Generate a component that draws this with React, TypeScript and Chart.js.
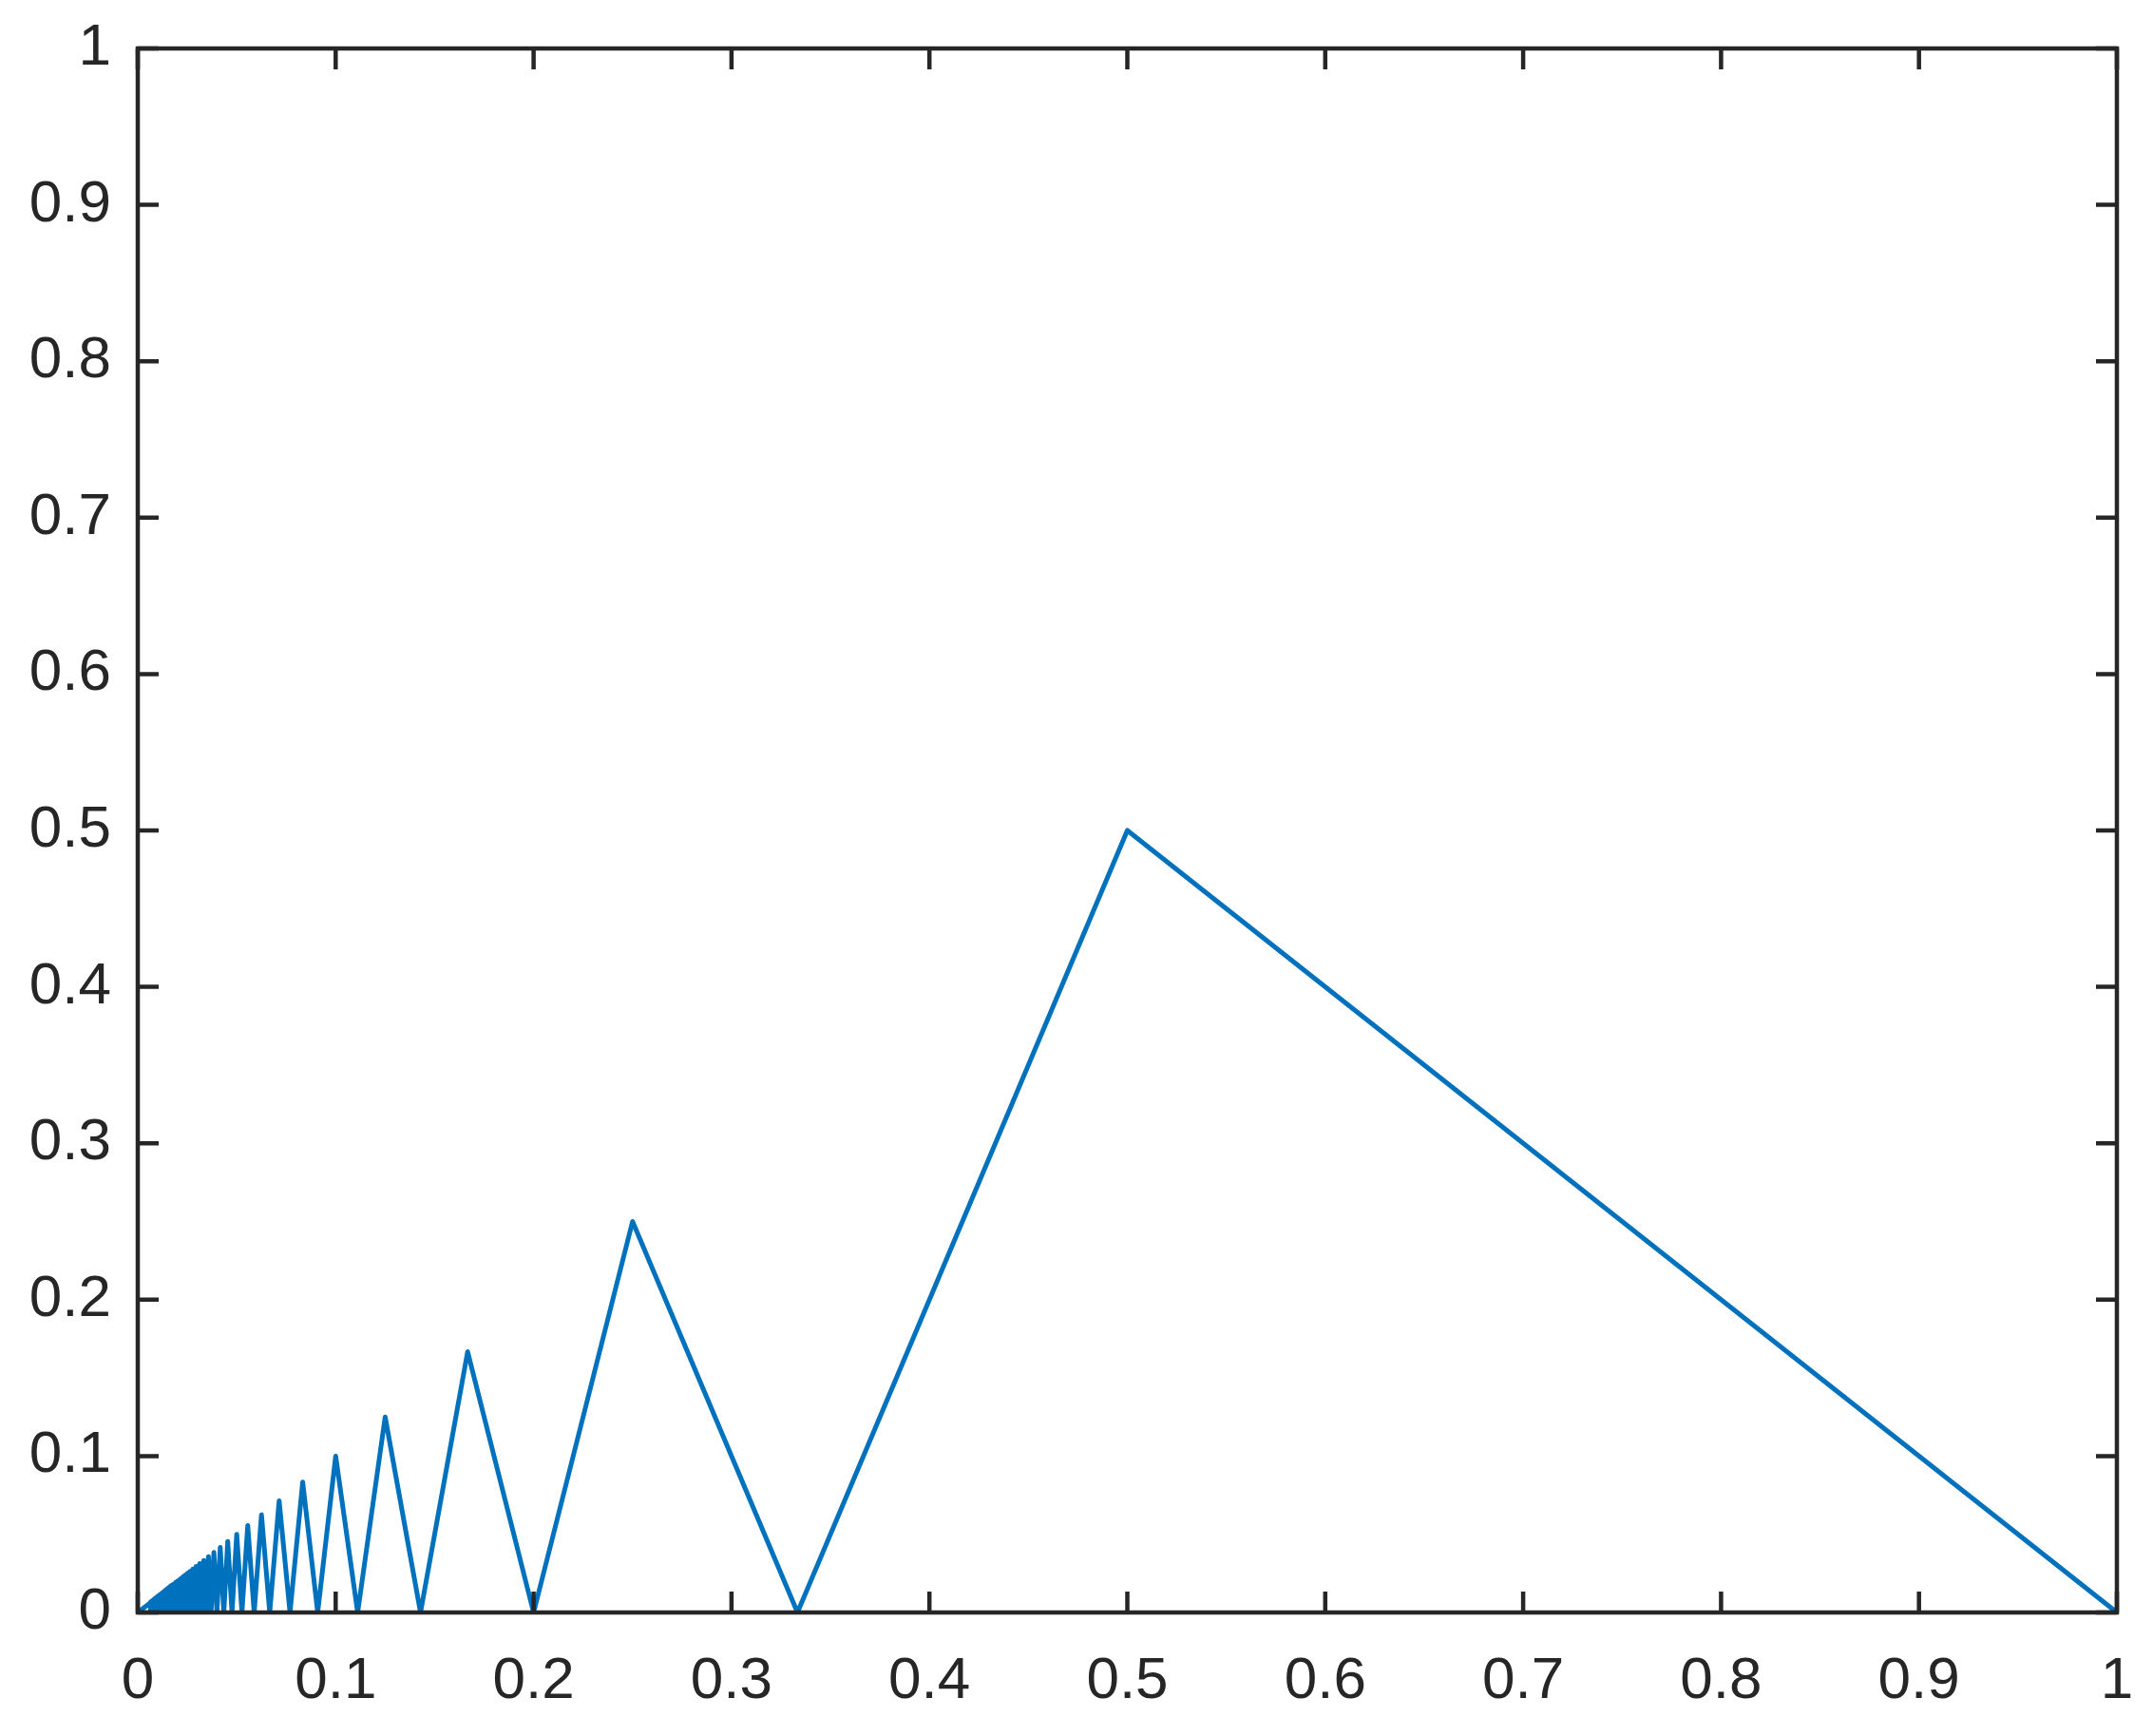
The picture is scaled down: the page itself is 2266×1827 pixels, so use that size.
import React, { useEffect, useRef } from "react";
import { Chart, registerables } from "chart.js";

Chart.register(...registerables);

// x = positions of the zigzag vertices, last point at origin
const xValues: number[] = [
  1, 0.5, 0.33333, 0.25, 0.2, 0.16667, 0.14286, 0.125, 0.11111, 0.1,
  0.09091, 0.08333, 0.07692, 0.07143, 0.06667, 0.0625, 0.05882, 0.05556, 0.05263, 0.05,
  0.04762, 0.04545, 0.04348, 0.04167, 0.04, 0.03846, 0.03704, 0.03571, 0.03448, 0.03333,
  0.03226, 0.03125, 0.0303, 0.02941, 0.02857, 0.02778, 0.02703, 0.02632, 0.02564, 0.025,
  0.02439, 0.02381, 0.02326, 0.02273, 0.02222, 0.02174, 0.02128, 0.02083, 0.02041, 0.02,
  0.01961, 0.01923, 0.01887, 0.01852, 0.01818, 0.01786, 0.01754, 0.01724, 0.01695, 0.01667,
  0.01639, 0.01613, 0.01587, 0.01563, 0.01538, 0.01515, 0.01493, 0.01471, 0.01449, 0.01429,
  0.01408, 0.01389, 0.0137, 0.01351, 0.01333, 0.01316, 0.01299, 0.01282, 0.01266, 0.0125,
  0.01235, 0.0122, 0.01205, 0.0119, 0.01176, 0.01163, 0.01149, 0.01136, 0.01124, 0.01111,
  0.01099, 0.01087, 0.01075, 0.01064, 0.01053, 0.01042, 0.01031, 0.0102, 0.0101, 0.01,
  0.0099, 0.0098, 0.00971, 0.00962, 0.00952, 0.00943, 0.00935, 0.00926, 0.00917, 0.00909,
  0.00901, 0.00893, 0.00885, 0.00877, 0.0087, 0.00862, 0.00855, 0.00847, 0.0084, 0.00833,
  0.00826, 0.0082, 0.00813, 0.00806, 0.008, 0.00794, 0.00787, 0.00781, 0.00775, 0.00769,
  0.00763, 0.00758, 0.00752, 0.00746, 0.00741, 0.00735, 0.0073, 0.00725, 0.00719, 0.00714,
  0.00709, 0.00704, 0.00699, 0.00694, 0.0069, 0.00685, 0.0068, 0.00676, 0.00671, 0.00667,
  0.00662, 0.00658, 0.00654, 0.00649, 0.00645, 0.00641, 0.00637, 0.00633, 0.00629, 0.00625,
  0,
];

const yValues: number[] = [
  0, 0.5, 0, 0.25, 0, 0.16667, 0, 0.125, 0, 0.1,
  0, 0.08333, 0, 0.07143, 0, 0.0625, 0, 0.05556, 0, 0.05,
  0, 0.04545, 0, 0.04167, 0, 0.03846, 0, 0.03571, 0, 0.03333,
  0, 0.03125, 0, 0.02941, 0, 0.02778, 0, 0.02632, 0, 0.025,
  0, 0.02381, 0, 0.02273, 0, 0.02174, 0, 0.02083, 0, 0.02,
  0, 0.01923, 0, 0.01852, 0, 0.01786, 0, 0.01724, 0, 0.01667,
  0, 0.01613, 0, 0.01563, 0, 0.01515, 0, 0.01471, 0, 0.01429,
  0, 0.01389, 0, 0.01351, 0, 0.01316, 0, 0.01282, 0, 0.0125,
  0, 0.0122, 0, 0.0119, 0, 0.01163, 0, 0.01136, 0, 0.01111,
  0, 0.01087, 0, 0.01064, 0, 0.01042, 0, 0.0102, 0, 0.01,
  0, 0.0098, 0, 0.00962, 0, 0.00943, 0, 0.00926, 0, 0.00909,
  0, 0.00893, 0, 0.00877, 0, 0.00862, 0, 0.00847, 0, 0.00833,
  0, 0.0082, 0, 0.00806, 0, 0.00794, 0, 0.00781, 0, 0.00769,
  0, 0.00758, 0, 0.00746, 0, 0.00735, 0, 0.00725, 0, 0.00714,
  0, 0.00704, 0, 0.00694, 0, 0.00685, 0, 0.00676, 0, 0.00667,
  0, 0.00658, 0, 0.00649, 0, 0.00641, 0, 0.00633, 0, 0.00625,
  0,
];

const xTickLabels: string[] = ["0", "0.1", "0.2", "0.3", "0.4", "0.5", "0.6", "0.7", "0.8", "0.9", "1"];
const yTickLabels: string[] = ["0", "0.1", "0.2", "0.3", "0.4", "0.5", "0.6", "0.7", "0.8", "0.9", "1"];

const W = 2266;
const H = 1827;
const AXIS_COLOR = "#262626";
const FONT = "'Liberation Sans', Arial, Helvetica, sans-serif";

const boxPlugin = {
  id: "matlabBox",
  afterDraw(chart: any) {
    const { ctx, chartArea, scales } = chart;
    const { left, right, top, bottom } = chartArea;
    const tl = 22;
    ctx.save();
    ctx.strokeStyle = AXIS_COLOR;
    ctx.lineWidth = 4.5;
    ctx.beginPath();
    for (const t of scales.x.ticks) {
      const px = scales.x.getPixelForValue(t.value);
      ctx.moveTo(px, bottom);
      ctx.lineTo(px, bottom - tl);
      ctx.moveTo(px, top);
      ctx.lineTo(px, top + tl);
    }
    for (const t of scales.y.ticks) {
      const py = scales.y.getPixelForValue(t.value);
      ctx.moveTo(left, py);
      ctx.lineTo(left + tl, py);
      ctx.moveTo(right, py);
      ctx.lineTo(right - tl, py);
    }
    ctx.stroke();
    ctx.lineJoin = "miter";
    ctx.strokeRect(left, top, right - left, bottom - top);
    ctx.restore();
  },
};

const zeroPad = (s: any) => {
  s.paddingLeft = 0;
  s.paddingRight = 0;
  s.paddingTop = 0;
  s.paddingBottom = 0;
};

export default function App() {
  const ref = useRef<HTMLCanvasElement | null>(null);

  useEffect(() => {
    if (!ref.current) return;
    const points = xValues.map((x, i) => ({ x, y: yValues[i] }));
    const chart = new Chart(ref.current, {
      type: "scatter",
      data: {
        datasets: [
          {
            data: points,
            showLine: true,
            borderColor: "#0072BD",
            backgroundColor: "#0072BD",
            borderWidth: 5,
            borderJoinStyle: "round",
            borderCapStyle: "round",
            pointRadius: 0,
            tension: 0,
            fill: false,
          },
        ],
      },
      options: {
        responsive: false,
        animation: false,
        devicePixelRatio: 1,
        layout: { padding: { left: 0, top: 51, right: 38, bottom: 0 } },
        plugins: {
          legend: { display: false },
          tooltip: { enabled: false },
        },
        scales: {
          x: {
            type: "linear",
            min: 0,
            max: 1,
            grid: { display: false, drawTicks: false },
            border: { display: false },
            ticks: {
              stepSize: 0.1,
              padding: 36,
              color: AXIS_COLOR,
              font: { family: FONT, size: 62 },
              maxRotation: 0,
              autoSkip: false,
              callback: (_v: any, i: number) => xTickLabels[i],
            },
            afterFit: (s: any) => {
              s.height = 130;
              zeroPad(s);
            },
          },
          y: {
            type: "linear",
            min: 0,
            max: 1,
            grid: { display: false, drawTicks: false },
            border: { display: false },
            ticks: {
              stepSize: 0.1,
              padding: 28,
              color: AXIS_COLOR,
              font: { family: FONT, size: 62 },
              autoSkip: false,
              callback: (_v: any, i: number) => yTickLabels[i],
            },
            afterFit: (s: any) => {
              s.width = 145;
              zeroPad(s);
            },
          },
        },
      },
      plugins: [boxPlugin],
    });
    return () => chart.destroy();
  }, []);

  return (
    <div style={{ position: "absolute", left: 0, top: 0, width: W, height: H, background: "#fff" }}>
      <canvas ref={ref} width={W} height={H} style={{ width: W, height: H, display: "block" }} />
    </div>
  );
}
